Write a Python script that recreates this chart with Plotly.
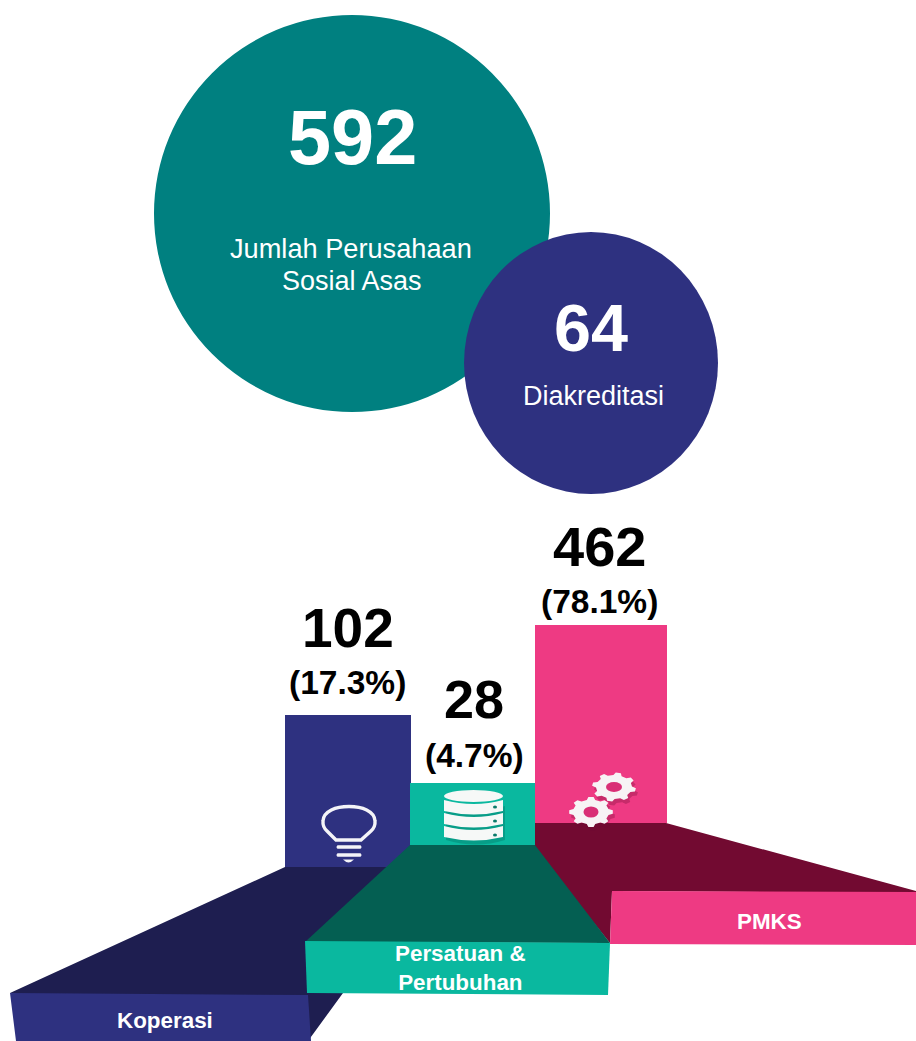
import math
import plotly.graph_objects as go

# --- data ---
total = 592
total_label = ["Jumlah Perusahaan", "Sosial Asas"]
accredited = 64
accredited_label = "Diakreditasi"
categories = ["Koperasi", "Persatuan &<br>Pertubuhan", "PMKS"]
counts = [102, 28, 462]
percents = ["17.3%", "4.7%", "78.1%"]

# --- pictorial geometry (pixel space: the original bars are not to scale) ---
W, H = 916, 1041
bar_left = [285, 410, 535]
bar_right = [411, 535, 667]
bar_top = [715, 783, 625]
bar_bottom = [867, 845, 823]
FONT = "Liberation Sans, Arial, sans-serif"
NAVY, GREEN, PINK = "#2e3180", "#0ab89f", "#ee3a83"
bar_colors = [NAVY, GREEN, PINK]


def poly(pts, color, layer="below"):
    path = "M" + " L".join(f"{x},{y}" for x, y in pts) + " Z"
    return dict(type="path", path=path, fillcolor=color, line_width=0, layer=layer)


def ring_path(pts):
    return "M" + " L".join(f"{x:.1f},{y:.1f}" for x, y in pts) + " Z"


def gear(cx, cy, rx, ry, hx, hy, rot=0.0, teeth=8):
    pts = []
    step = 2 * math.pi / teeth
    for i in range(teeth):
        a = rot + i * step
        for da, r in [(-0.30, 0.82), (-0.15, 1.0), (0.15, 1.0), (0.30, 0.82)]:
            pts.append((cx + rx * r * math.cos(a + da * step),
                        cy + ry * r * math.sin(a + da * step)))
    out = []
    out.append(dict(type="path", path=ring_path([(x + 2, y + 4) for x, y in pts]),
                    fillcolor="rgba(110,10,50,0.30)", line_width=0, layer="above"))
    out.append(dict(type="path", path=ring_path(pts), fillcolor="#f7f3f5", line_width=0, layer="above"))
    out.append(dict(type="circle", x0=cx - hx, x1=cx + hx, y0=cy - hy, y1=cy + hy,
                    fillcolor="#d92f76", line_width=0, layer="above"))
    return out


shapes = [
    # circles
    dict(type="circle", x0=154, x1=550, y0=15, y1=412, fillcolor="#008080", line_width=0, layer="below"),
    dict(type="circle", x0=464, x1=718, y0=232, y1=494, fillcolor=NAVY, line_width=0, layer="below"),
    # floors
    poly([(285, 867), (400, 867), (400, 960), (343, 993), (308, 1041), (10, 993)], "#1e1e50"),
    poly([(535, 823), (666, 823), (916, 891), (916, 893), (612, 891), (610, 943), (535, 850)], "#720a31"),
    # green floor overlaps the navy bar's lower corner
    poly([(410, 845), (535, 845), (610, 943), (305, 942)], "#045f52", layer="above"),
    # label plates
    poly([(10, 993), (308, 995), (311, 1041), (16, 1041)], NAVY),
    poly([(305, 941), (610, 943), (608, 995), (307, 993)], GREEN, layer="above"),
    poly([(612, 891), (916, 892), (916, 945), (610, 944)], PINK),
]

# light bulb
bulb = "M336,840 L327,831 Q322.5,827 323,821 C323.5,811 336,806.5 349,806.5 C362,806.5 374.5,811 375,821 Q375.5,827 371,831 L361,840 Z"
shapes.append(dict(type="path", path=bulb, fillcolor="rgba(0,0,0,0)", line=dict(color="#f4f4f8", width=3.4), layer="above"))
for y0 in (847, 855):
    shapes.append(dict(type="path", path=f"M337.5,{y0 - 1.8} L360.5,{y0 - 1.8} Q362.5,{y0} 360.5,{y0 + 1.8} L337.5,{y0 + 1.8} Q335.5,{y0} 337.5,{y0 - 1.8} Z",
                       fillcolor="#f4f4f8", line_width=0, layer="above"))
shapes.append(dict(type="path", path="M343,859.5 L354,859.5 Q351,862.5 348.5,862.5 Q346,862.5 343,859.5 Z", fillcolor="#f4f4f8", line_width=0, layer="above"))

# database
shapes.append(dict(type="path", path="M446,806 Q476,816 505,806 L505,840 Q476,849 446,840 Z",
                   fillcolor="rgba(4,95,82,0.30)", line_width=0, layer="above"))
shapes.append(dict(type="circle", x0=444, x1=503, y0=790, y1=802, fillcolor="#f6f8f7", line_width=0, layer="above"))
for y, dot in [(800, 807), (813, 821), (826, 835)]:
    shapes.append(dict(type="path", path=f"M444,{y} Q474,{y + 8} 503,{y} L503,{y + 11} Q474,{y + 18} 444,{y + 11} Z",
                       fillcolor="#f6f8f7", line_width=0, layer="above"))
    shapes.append(dict(type="circle", x0=493, x1=497, y0=dot - 1.5, y1=dot + 1.5, fillcolor="#0a7a6a", line_width=0, layer="above"))

# gears
shapes += gear(614, 787, 22, 14.5, 8, 5, rot=0.2)
shapes += gear(591, 812, 22, 15, 7.5, 5.5, rot=0.0)

fig = go.Figure()
fig.add_trace(go.Bar(
    x=[(a + b) / 2 for a, b in zip(bar_left, bar_right)],
    y=[b - t for t, b in zip(bar_top, bar_bottom)],
    base=bar_top,
    width=[b - a for a, b in zip(bar_left, bar_right)],
    marker=dict(color=bar_colors, line_width=0),
    hoverinfo="skip",
    showlegend=False,
))


def label(x, y, text, size, bold=False, color="white"):
    t = f"<b>{text}</b>" if bold else text
    fig.add_annotation(x=x, y=y, text=t, showarrow=False, xanchor="center", yanchor="middle",
                       font=dict(family=FONT, size=size, color=color), align="center")


label(352, 137, str(total), 77.5, True)
label(351, 248, total_label[0], 27.2)
label(351.5, 281, total_label[1], 27)
label(591, 328, str(accredited), 66.5, True)
label(593.5, 396, accredited_label, 27)

num_x = [348, 474, 599]
num_y = [628, 699, 546]
pct_x = [347, 474.5, 599.5]
pct_y = [682, 755, 601]
num_size = [55, 54, 56]
for i in range(3):
    label(num_x[i], num_y[i], str(counts[i]), num_size[i], True, "black")
    label(pct_x[i], pct_y[i], f"({percents[i]})", 33.5, True, "black")

label(165, 1020, categories[0], 22.4, True)
fig.add_annotation(x=460, y=968, text=f"<b>{categories[1]}</b>", showarrow=False, align="center",
                   font=dict(family=FONT, size=22.4, color="white"), xanchor="center", yanchor="middle")
label(769, 921, categories[2], 22.4, True)

fig.update_layout(
    width=W, height=H, margin=dict(l=0, r=0, t=0, b=0),
    paper_bgcolor="white", plot_bgcolor="white",
    xaxis=dict(range=[0, W], visible=False, fixedrange=True),
    yaxis=dict(range=[H, 0], visible=False, fixedrange=True),
    shapes=shapes, bargap=0,
)
fig.write_html("out.html", config=dict(displayModeBar=False),
               post_script="document.body.style.margin='0';document.body.style.overflow='hidden';")
